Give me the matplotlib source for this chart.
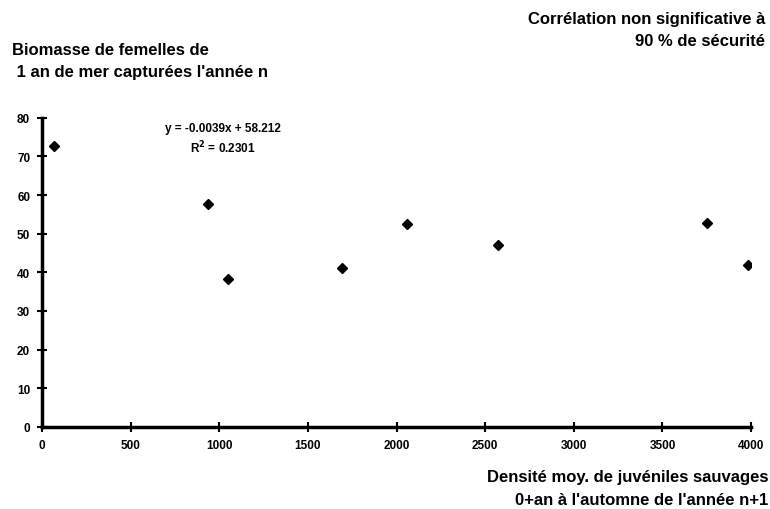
import matplotlib.pyplot as plt

# densité de juvéniles (n+1) et biomasse de femelles (n)
densite = [68, 938, 1047, 1690, 2057, 2570, 3749, 3984]
biomasse = [72.6, 57.6, 38.4, 41.2, 52.5, 47.2, 52.8, 41.8]
xticks = [0, 500, 1000, 1500, 2000, 2500, 3000, 3500, 4000]
yticks = [0, 10, 20, 30, 40, 50, 60, 70, 80]

plt.rcParams['font.family'] = ['Liberation Sans', 'DejaVu Sans']
plt.rcParams['font.weight'] = 'bold'

fig = plt.figure(figsize=(7.7, 5.1), dpi=100)
ax = fig.add_axes([0.0545, 0.161, 0.921, 0.606])

ax.plot(densite, biomasse, linestyle='none', marker='D', markersize=5.5,
        color='black')

ax.set_xlim(0, 4000)
ax.set_ylim(0, 80)
ax.set_xticks(xticks)
ax.set_yticks(yticks)
ax.tick_params(direction='inout', length=7, width=1.5, labelsize=8.5, pad=5)
for lab in ax.get_xticklabels() + ax.get_yticklabels():
    lab.set_fontweight('bold')
for s in ['top', 'right']:
    ax.spines[s].set_visible(False)
for s in ['left', 'bottom']:
    ax.spines[s].set_linewidth(2.5)

ax.text(0.255, 0.985, 'y = -0.0039x + 58.212\nR$^2$ = 0.2301', transform=ax.transAxes,
        ha='center', va='top', fontsize=8.5, fontweight='bold', linespacing=1.3)

fig.text(0.994, 0.977, 'Corrélation non significative à\n90 % de sécurité',
         ha='right', va='top', fontsize=12, fontweight='bold', linespacing=1.6)
fig.text(0.016, 0.916, "Biomasse de femelles de\n 1 an de mer capturées l'année n",
         ha='left', va='top', fontsize=12, fontweight='bold', linespacing=1.6)
fig.text(0.998, 0.041, "Densité moy. de juvéniles sauvages\n0+an à l'automne de l'année n+1",
         ha='right', va='center', fontsize=12, fontweight='bold', linespacing=1.6,
         multialignment='right')

fig.savefig('out.png', dpi=100)
